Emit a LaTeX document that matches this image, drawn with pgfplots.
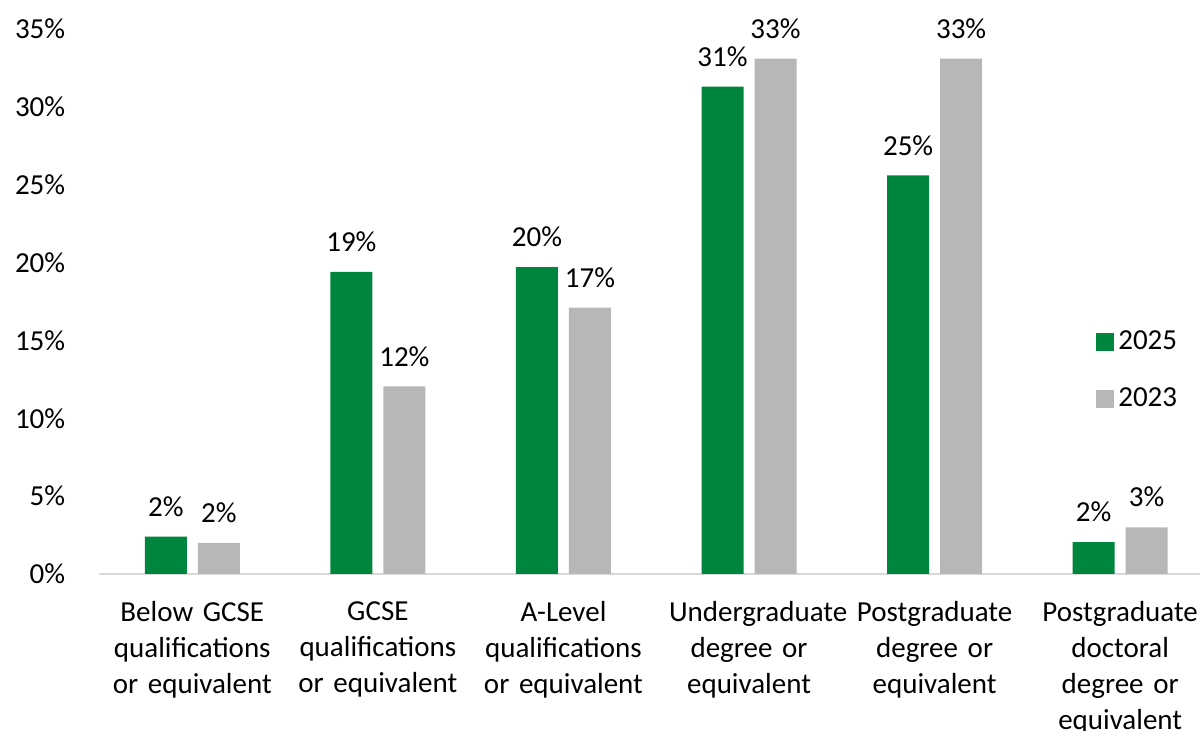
\documentclass[border=0pt]{standalone}
\usepackage{fontspec}
\setmainfont{Carlito}
\usepackage{pgfplots}
\pgfplotsset{compat=1.18}
\definecolor{green25}{RGB}{0,133,62}
\definecolor{grey23}{RGB}{183,183,183}
\definecolor{axisgrey}{RGB}{217,217,217}

\begin{document}
\fontsize{14.5pt}{18pt}\selectfont
\begin{tikzpicture}
\begin{axis}[
  scale only axis,
  width=550.25pt, height=272.5pt,
  xmin=-0.5, xmax=5.43,
  ymin=0, ymax=35,
  ybar=5.5pt, bar width=21pt,
  axis x line=bottom, axis y line=left,
  axis line style={-},
  x axis line style={draw=axisgrey, line width=1pt},
  y axis line style={draw=none},
  tick style={draw=none},
  xtick=data,
  xticklabels={Below GCSE qualifications or equivalent,
    GCSE qualifications or equivalent,
    A-Level qualifications or equivalent,
    Undergraduate degree or equivalent,
    Postgraduate degree or equivalent,
    Postgraduate doctoral degree or equivalent},
  xticklabel style={text width=80pt, align=center, yshift=-6.5pt,
    font=\fontsize{14.5pt}{18pt}\selectfont},
  ytick={0,5,...,35},
  yticklabels={0\%,5\%,10\%,15\%,20\%,25\%,30\%,35\%},
  yticklabel style={xshift=-10pt, font=\fontsize{14.5pt}{18pt}\selectfont},
  /pgf/number format/assume math mode=true,
  point meta=explicit symbolic,
  nodes near coords,
  every node near coord/.append style={yshift=5pt,
    font=\fontsize{14.5pt}{18pt}\selectfont, text=black},
  legend style={draw=none, fill=none, at={(0.9,0.462)}, anchor=north west,
    row sep=13pt, font=\fontsize{14.5pt}{18pt}\selectfont},
  legend cell align=left,
  legend image code/.code={\fill[#1] (0pt,-4.5pt) rectangle (9pt,4.5pt);},
]
\addplot[fill=green25, draw=none] coordinates {
  (0,2.4) [2\%] (1,19.4) [19\%] (2,19.7) [20\%]
  (3,31.3) [31\%] (4,25.6) [25\%] (5,2.05) [2\%]};
\addlegendentry{2025}
\addplot[fill=grey23, draw=none] coordinates {
  (0,2.0) [2\%] (1,12.05) [12\%] (2,17.1) [17\%]
  (3,33.1) [33\%] (4,33.1) [33\%] (5,3.0) [3\%]};
\addlegendentry{2023}
\end{axis}
\pgfresetboundingbox
\path (-49.75pt,-78.5pt) rectangle (550.25pt,287pt);
\end{tikzpicture}
\end{document}
